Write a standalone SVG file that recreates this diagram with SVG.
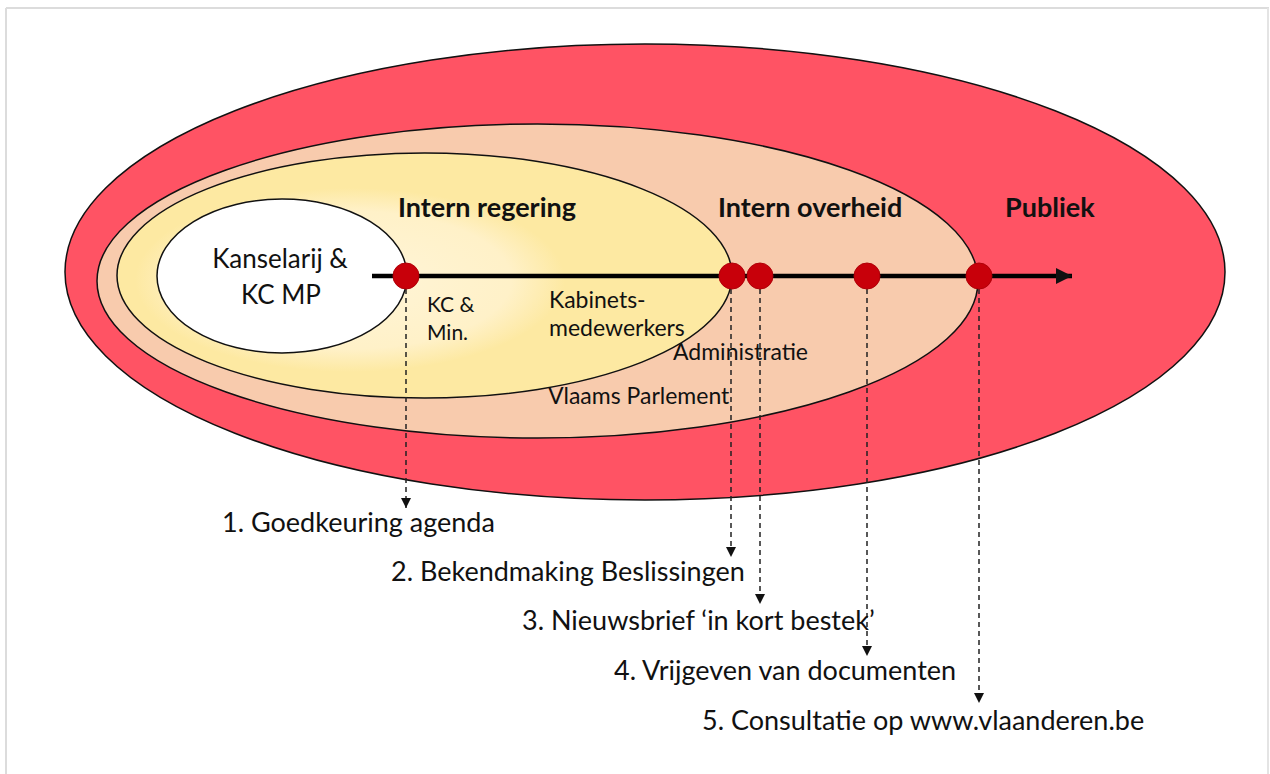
<svg xmlns="http://www.w3.org/2000/svg" width="1270" height="774" viewBox="0 0 1270 774">
<defs>
<style>
.t{font-family:Lato,"Liberation Sans",sans-serif;fill:#111;font-size:23px}
.b{font-weight:bold;font-size:27px}
.l{font-size:27px}
.dot{fill:#c8000a;stroke:#b00008;stroke-width:1}
.dash{stroke:#222;stroke-width:1.5;stroke-dasharray:5 4;fill:none}
.ell{stroke:#111;stroke-width:1.5}
</style>
<marker id="ah" viewBox="0 0 10 10" refX="10" refY="5" markerWidth="10" markerHeight="10" markerUnits="userSpaceOnUse" orient="auto">
<path d="M0,0 L10,5 L0,10 z" fill="#111"/>
</marker>
<marker id="big" viewBox="0 0 10 10" refX="10" refY="5" markerWidth="16" markerHeight="16" markerUnits="userSpaceOnUse" orient="auto">
<path d="M0,0 L10,5 L0,10 z" fill="#111"/>
</marker>
<radialGradient id="glow" cx="0.5" cy="0.5" r="0.5">
<stop offset="0" stop-color="#fff5d8"/>
<stop offset="0.75" stop-color="#fff1c8"/>
<stop offset="1" stop-color="#fde9a2"/>
</radialGradient>
</defs>
<rect x="0" y="0" width="1270" height="774" fill="#fff"/>
<g id="frame">
<line x1="6" y1="8" x2="1269" y2="8" stroke="#dcdcdc" stroke-width="2"/>
<line x1="6" y1="8" x2="6" y2="774" stroke="#dcdcdc" stroke-width="2"/>
<line x1="1268" y1="8" x2="1268" y2="774" stroke="#e4e4e4" stroke-width="2"/>
</g>
<g id="publiek">
<ellipse class="ell" cx="645" cy="272" rx="580" ry="228" fill="#ff5364"/>
<text class="t b" x="1005" y="217">Publiek</text>
</g>
<g id="intern-overheid">
<ellipse class="ell" cx="537.5" cy="281" rx="440.5" ry="157" fill="#f8cbad"/>
<text class="t b" x="718" y="217">Intern overheid</text>
<text class="t" x="673" y="360">Administratie</text>
<text class="t" x="548" y="404">Vlaams Parlement</text>
</g>
<g id="intern-regering">
<ellipse class="ell" cx="424.5" cy="275.5" rx="307.5" ry="122.5" fill="#fde9a2"/>
<ellipse cx="350" cy="280" rx="215" ry="92" fill="url(#glow)"/>
<text class="t b" x="398" y="217">Intern regering</text>
<text class="t" x="427" y="312" style="font-size:21px">KC &amp;</text>
<text class="t" x="427" y="340" style="font-size:21px">Min.</text>
<text class="t" x="549" y="308">Kabinets-</text>
<text class="t" x="549" y="336">medewerkers</text>
</g>
<g id="kanselarij">
<ellipse class="ell" cx="282" cy="276" rx="125" ry="77" fill="#fff"/>
<text class="t" x="280" y="268" text-anchor="middle" style="font-size:26px">Kanselarij &amp;</text>
<text class="t" x="281" y="304" text-anchor="middle" style="font-size:26px">KC MP</text>
</g>
<g id="connectors">
<line x1="372" y1="276" x2="1072" y2="276" stroke="#000" stroke-width="4.5" marker-end="url(#big)"/>
<line class="dash" x1="406" y1="289" x2="406" y2="508" marker-end="url(#ah)"/>
<line class="dash" x1="731" y1="289" x2="731" y2="557" marker-end="url(#ah)"/>
<line class="dash" x1="760" y1="289" x2="760" y2="604" marker-end="url(#ah)"/>
<line class="dash" x1="867" y1="289" x2="867" y2="656" marker-end="url(#ah)"/>
<line class="dash" x1="979" y1="289" x2="979" y2="703" marker-end="url(#ah)"/>
<circle class="dot" cx="406" cy="276" r="13"/>
<circle class="dot" cx="732" cy="276" r="13"/>
<circle class="dot" cx="760" cy="276" r="13"/>
<circle class="dot" cx="867" cy="276" r="13"/>
<circle class="dot" cx="979" cy="276" r="13"/>
</g>
<g id="labels">
<text class="t l" x="222" y="532">1. Goedkeuring agenda</text>
<text class="t l" x="391" y="581">2. Bekendmaking Beslissingen</text>
<text class="t l" x="522" y="630">3. Nieuwsbrief ‘in kort bestek’</text>
<text class="t l" x="614" y="680">4. Vrijgeven van documenten</text>
<text class="t l" x="702" y="730">5. Consultatie op www.vlaanderen.be</text>
</g>
</svg>
